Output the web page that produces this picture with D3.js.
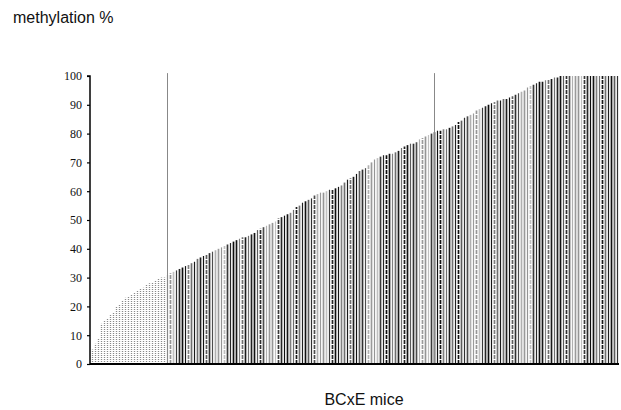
<!DOCTYPE html>
<html>
<head>
<meta charset="utf-8">
<script src="https://cdn.jsdelivr.net/npm/d3@7"></script>
<style>
  body { margin: 0; background: #fff; }
  svg { display: block; }
</style>
</head>
<body>
<svg id="chart" width="621" height="410"></svg>
<script>
// methylation % per mouse, sorted ascending
const values = [
  5, 7, 9, 14, 15, 16, 17, 18, 20, 20.5,
  22, 23, 23.5, 24, 25, 25.5, 26, 26.5, 27.5, 28,
  28.5, 29, 29.5, 30, 30, 31, 31.5, 32, 32.5, 33,
  33.5, 34, 34.5, 35, 35.5, 36.5, 37, 37.5, 38, 38.5,
  39, 39.5, 40, 40.5, 41, 41.5, 42, 42.5, 43, 43.5,
  44, 44, 44.5, 45, 45.5, 46.5, 47, 47.5, 48, 48.5,
  49, 49.5, 50.5, 51, 51.5, 52, 52.5, 53.5, 54.5, 55,
  56, 56.5, 57, 57.5, 58.5, 59, 59.5, 59.5, 60, 60.5,
  60.5, 61, 61.5, 62, 63, 64, 64.5, 65, 66, 67,
  67.5, 68, 69, 70, 71, 71.5, 72, 72.5, 72.5, 73,
  73, 73.5, 74, 75, 75.5, 76, 76.5, 76.5, 77, 78,
  78.5, 79, 79.5, 80, 80.5, 81, 81, 81.5, 81.5, 82,
  82.5, 83, 84, 84.5, 85.5, 86, 86.5, 87, 88, 88.5,
  89, 89.5, 90, 90.5, 91, 91.5, 91.5, 92, 92, 92.5,
  93, 93.5, 94, 94.5, 95, 96, 96.5, 97, 97.5, 98,
  98, 98.5, 99, 99, 99.5, 99.5, 100, 100, 100, 100,
  100, 100, 100, 100, 100, 100, 100, 100, 100, 100,
  100, 100, 100, 100, 100, 100
];
// mice index where the vertical marker lines stand
const markers = [25, 114];
const lightCount = 25; // first group drawn in light dotted grey
const yTicks = [0, 10, 20, 30, 40, 50, 60, 70, 80, 90, 100];
const yTitle = 'methylation %';
const xTitle = 'BCxE mice';

const margin = { top: 76, right: 2, bottom: 46, left: 90 };
const width = 621;
const height = 410;

const svg = d3.select('#chart');

const x = d3.scaleBand()
  .domain(d3.range(values.length))
  .range([margin.left + 1, width - margin.right])
  .padding(0);

const y = d3.scaleLinear()
  .domain([0, 100])
  .range([height - margin.bottom, margin.top]);

// scanned look: mixed greys, some broken strokes
const shades = ['#1a1a1a', '#5c5c5c', '#9a9a9a', '#262626', '#6e6e6e', '#111', '#b0b0b0',
  '#3a3a3a', '#808080', '#202020', '#4c4c4c', '#c0c0c0', '#151515', '#707070', '#303030',
  '#959595', '#0d0d0d'];

const bars = svg.append('g');
bars.selectAll('line')
  .data(values)
  .join('line')
  .attr('x1', (d, i) => x(i) + x.bandwidth() / 2)
  .attr('x2', (d, i) => x(i) + x.bandwidth() / 2)
  .attr('y1', y(0))
  .attr('y2', (d) => y(d))
  .attr('stroke', (d, i) => (i < lightCount ? '#8a8a8a' : shades[(i * 13) % shades.length]))
  .attr('stroke-width', (d, i) => (i < lightCount ? 1.3 : (i % 3 === 1 ? 1.2 : 1.7)))
  .attr('stroke-dasharray', (d, i) => (i < lightCount ? '1 1' : ((i * 7) % 6 === 2 ? '4 1' : null)));

// marker lines
svg.append('g')
  .selectAll('line')
  .data(markers)
  .join('line')
  .attr('x1', (d) => x(d) + x.bandwidth() / 2)
  .attr('x2', (d) => x(d) + x.bandwidth() / 2)
  .attr('y1', y(0))
  .attr('y2', y(101))
  .attr('stroke', '#888')
  .attr('stroke-width', 1);

const yAxis = (g) =>
  g.attr('transform', `translate(${margin.left},0)`)
    .call(d3.axisLeft(y).tickValues(yTicks).tickSize(3).tickPadding(5).tickFormat(d3.format('d')))
    .call((g) => g.select('.domain').attr('stroke', '#000').attr('stroke-width', 1.5).attr('d', `M-3,${y(100)}H0V${y(0)}`))
    .call((g) => g.selectAll('.tick line').attr('stroke', '#000').attr('stroke-width', 1.2))
    .call((g) => g.selectAll('.tick text')
      .attr('fill', '#111')
      .attr('font-family', '"Liberation Serif", "DejaVu Serif", serif')
      .attr('font-size', 12));

const xAxis = (g) =>
  g.attr('transform', `translate(0,${y(0)})`)
    .call(d3.axisBottom(x).tickValues([]).tickSizeOuter(0))
    .call((g) => g.select('.domain').attr('stroke', '#000').attr('stroke-width', 2)
      .attr('d', `M${margin.left},0H${width - margin.right}`));

svg.append('g').call(xAxis);
svg.append('g').call(yAxis);

svg.append('text')
  .attr('x', 13)
  .attr('y', 23)
  .attr('font-family', '"Liberation Sans", Arial, sans-serif')
  .attr('font-size', 16)
  .attr('fill', '#111')
  .text(yTitle);

svg.append('text')
  .attr('x', 364)
  .attr('y', 405)
  .attr('text-anchor', 'middle')
  .attr('font-family', '"Liberation Sans", Arial, sans-serif')
  .attr('font-size', 16)
  .attr('fill', '#111')
  .text(xTitle);
</script>
</body>
</html>
